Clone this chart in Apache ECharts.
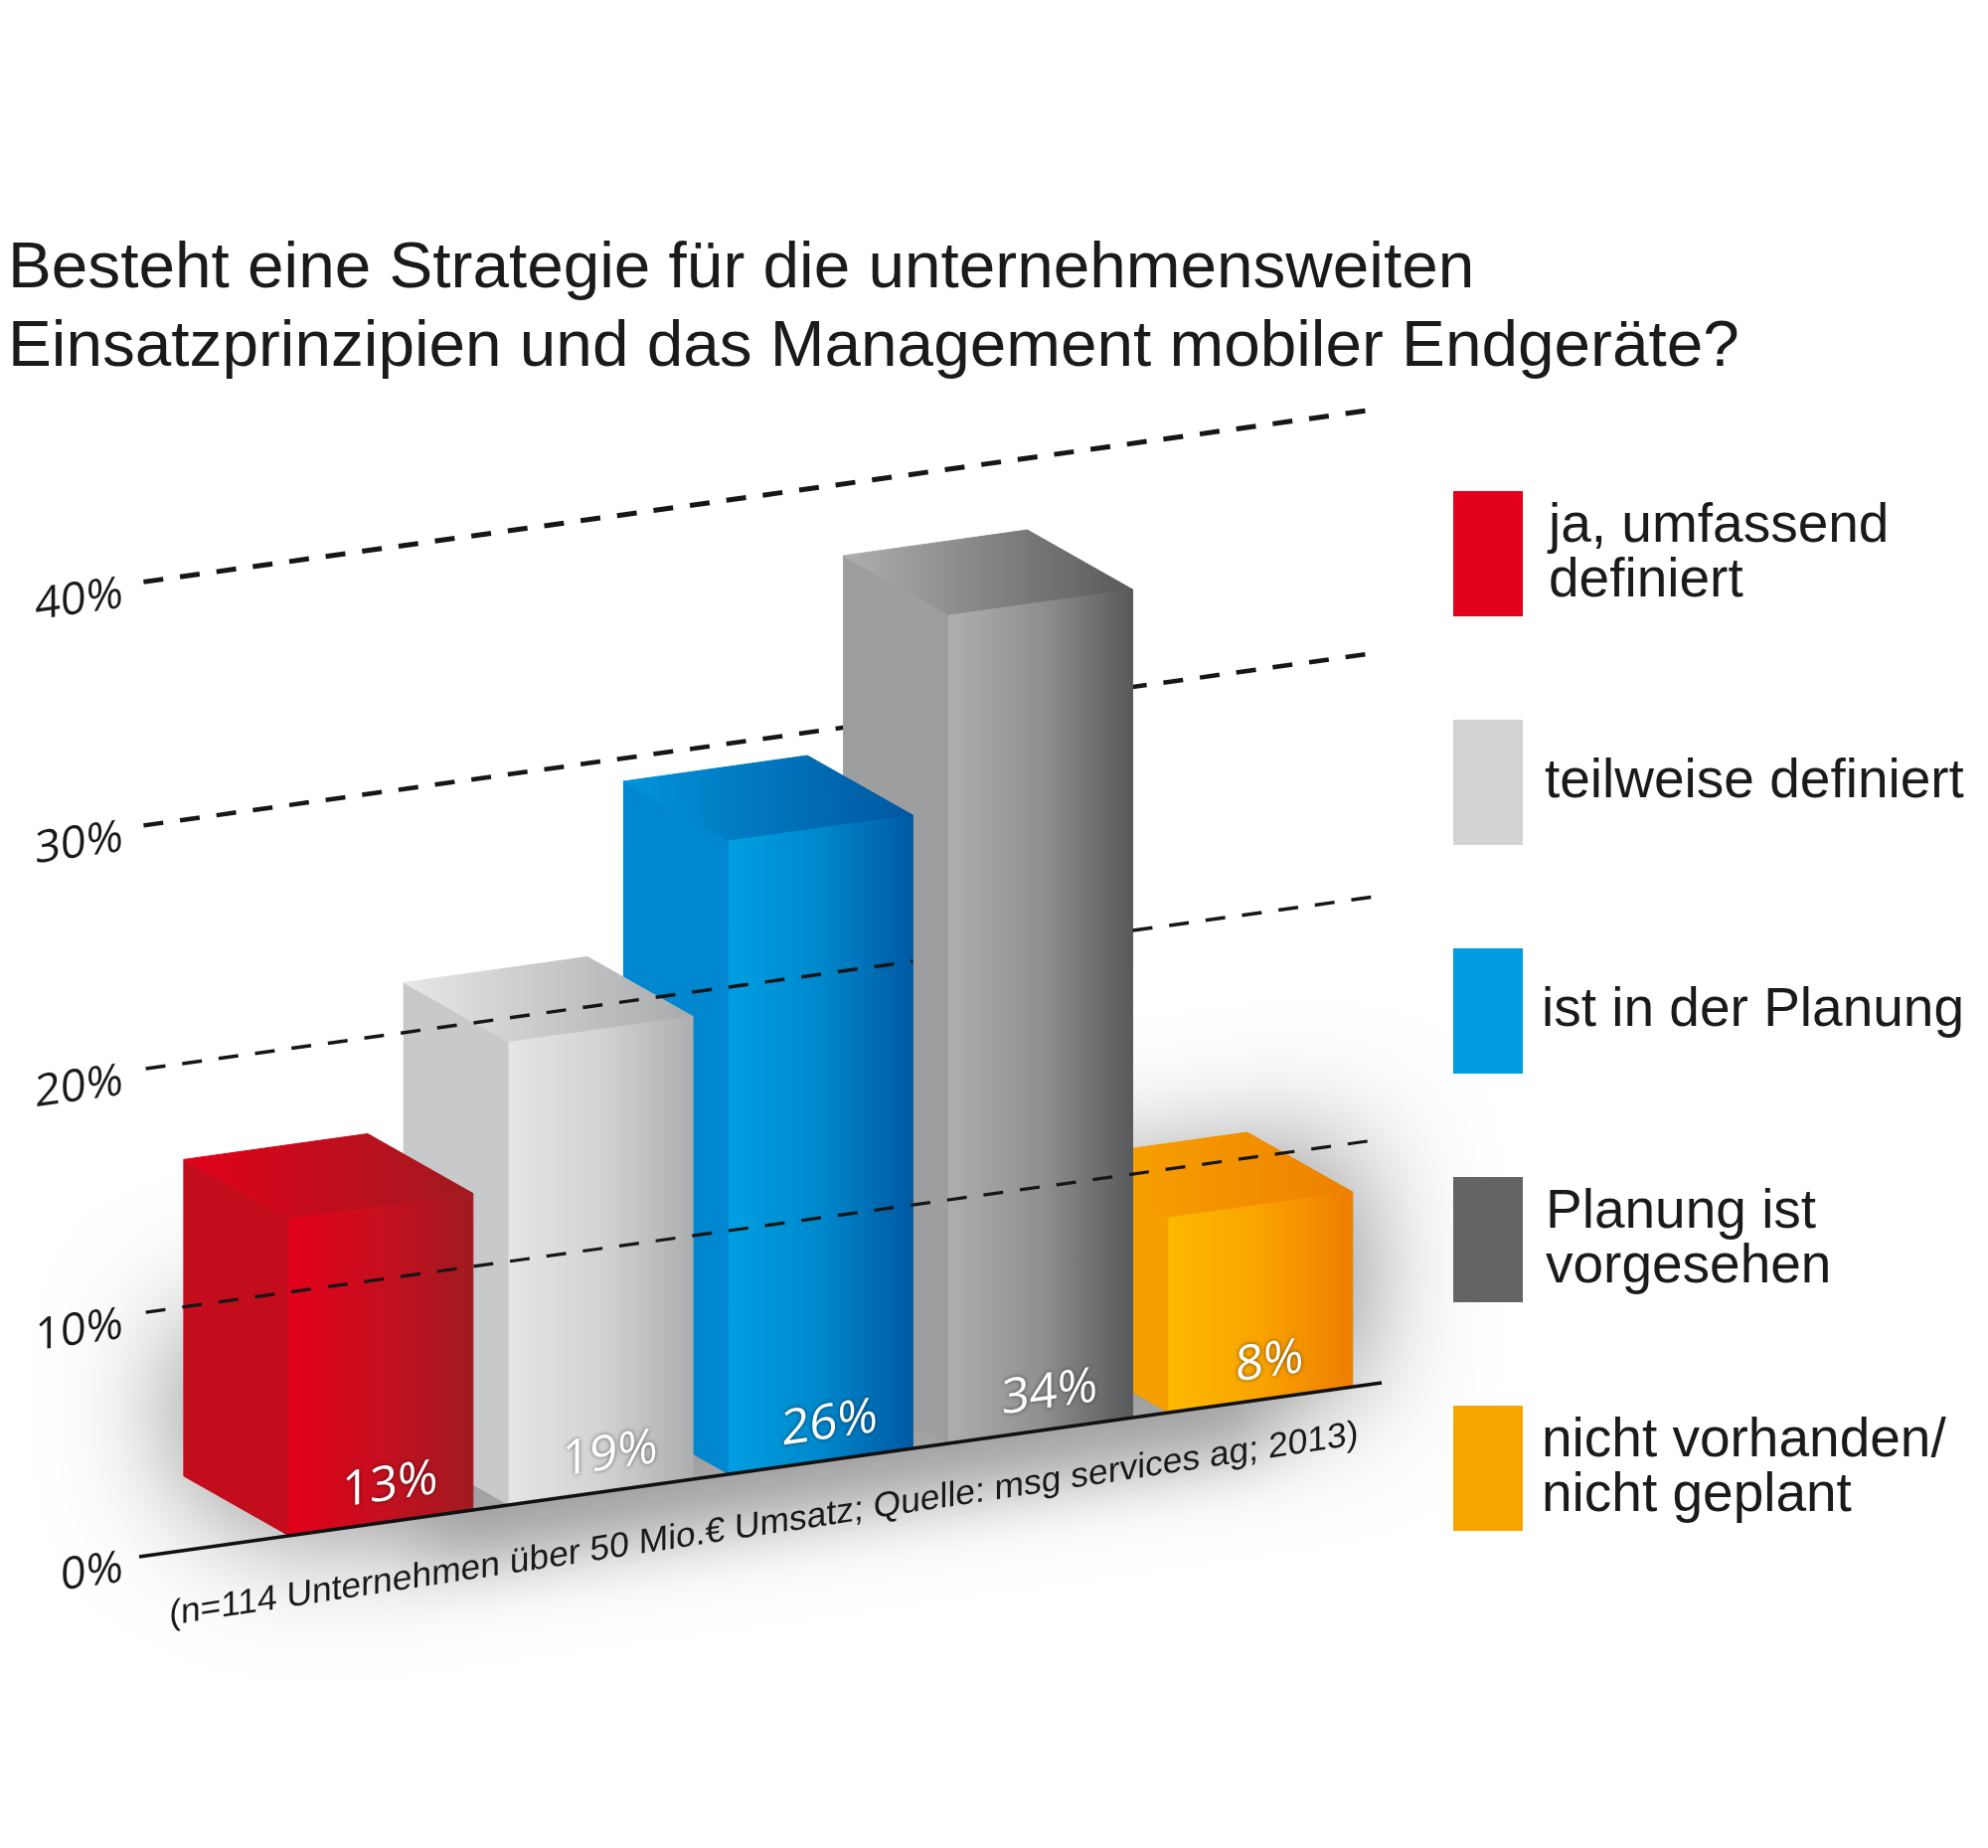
<!DOCTYPE html>
<html lang="de">
<head>
<meta charset="utf-8">
<title>Strategie mobile Endgeräte</title>
<style>html,body{margin:0;padding:0;background:#fff}#chart{width:2000px;height:1859px}</style>
<script src="https://cdn.jsdelivr.net/npm/echarts@6/dist/echarts.min.js"></script>
</head>
<body>
<div id="chart"></div>
<script>
// Survey answers, in percent
const categories = ['ja, umfassend\ndefiniert', 'teilweise definiert', 'ist in der Planung', 'Planung ist\nvorgesehen', 'nicht vorhanden/\nnicht geplant'];
const values = [13, 19, 26, 34, 8];
const tickValues = [0, 10, 20, 30, 40];
const gridValues = [40, 30, 20, 10];
const gridWidths = [5, 4.5, 3.5, 3.2];
const legendColors = ['#e2001a', '#d1d2d4', '#009ee0', '#636466', '#f7a600'];
const sideColors = ['#c30d1d', '#c8c9cb', '#0087cf', '#9d9ea0', '#f5a000'];
const frontColors = [['#e2001a', '#c60f1f', '#a01a20'], ['#e4e5e7', '#d2d3d5', '#adaeb0'], ['#009fe2', '#0088cc', '#0058a2'], ['#adaeb0', '#8f9092', '#58595b'], ['#fdb900', '#f9a300', '#ee7d00']];
const topColors = [['#e2001a', '#a01a20'], ['#e6e7e8', '#a9aaac'], ['#0094da', '#0056a0'], ['#aeafb1', '#58595b'], ['#f9a900', '#ee8000']];
const legendIndent = [21, 17, 14, 18, 14];
const footnote = '(n=114 Unternehmen über 50 Mio.€ Umsatz; Quelle: msg services ag; 2013)';
const title = 'Besteht eine Strategie für die unternehmensweiten\nEinsatzprinzipien und das Management mobiler Endgeräte?';

// Oblique projection: the floor rises to the right, bars recede up and to the left
const SLOPE = 0.14;
const DEPTH = [-106, -60];
const BAR = 0.836;
const X_MIN = -1.1, X_MAX = 4.55;
const GRID = { left: 140, top: 586, width: 1250, height: 980 };
const SKEW = Math.atan(SLOPE);
const FONT = 'Liberation Sans';
const TICK_FONT = 'Open Sans';
const INK = '#1a1a1a';

function project(api, x, v) {
  const p = api.coord([x, v]);
  return [p[0], p[1] - SLOPE * (p[0] - GRID.left)];
}
const back = p => [p[0] + DEPTH[0], p[1] + DEPTH[1]];
const grad = stops => new echarts.graphic.LinearGradient(0, 0, 1, 0,
  stops.map((c, i) => ({ offset: i / (stops.length - 1), color: c })));
// The hairline stroke closes the antialiasing seam between adjoining faces
const poly = (points, fill) => ({ type: 'polygon', shape: { points }, style: { fill, stroke: fill, lineWidth: 1 } });

function renderBar(i) {
  return function (params, api) {
    const x = api.value(0), v = api.value(1);
    const fl0 = project(api, x - BAR / 2, 0), fr0 = project(api, x + BAR / 2, 0);
    const fl1 = project(api, x - BAR / 2, v), fr1 = project(api, x + BAR / 2, v);
    const mid = project(api, x + 0.04, 0);
    return {
      type: 'group',
      children: [
        poly([fl0, fl1, back(fl1), back(fl0)], sideColors[i]),
        poly([fl1, fr1, back(fr1), back(fl1)], grad(topColors[i])),
        poly([fl0, fr0, fr1, fl1], grad(frontColors[i])),
        {
          type: 'text', x: mid[0], y: mid[1] - 36, skewY: SKEW,
          style: {
            text: v + '%', fill: '#fff', font: '400 49px "' + TICK_FONT + '"',
            align: 'center', verticalAlign: 'middle',
            textShadowColor: 'rgba(0,0,0,0.55)', textShadowBlur: 4
          }
        }
      ]
    };
  };
}

// Soft shadow: the shape is drawn off-canvas so only its blurred shadow lands on the page
function renderShadow(params, api) {
  const OFF = 4000;
  const soft = (points, blur, color) => ({
    type: 'polygon', x: -OFF, shape: { points },
    style: { fill: '#000', shadowBlur: blur, shadowColor: color, shadowOffsetX: OFF }
  });
  const xa = 0 - BAR / 2, xb = values.length - 1 + BAR / 2;
  const la = back(project(api, xa, 0)), lb = back(project(api, xa, 6));
  const ra = project(api, xb, 0), rb = project(api, xb, 10);
  const fa = project(api, xa, 0);
  return {
    type: 'group',
    children: [
      soft([la, lb, rb, ra, fa], 130, 'rgba(0,0,0,0.5)'),
      soft([project(api, xa + 0.6, 0), project(api, xb - 0.4, 0), project(api, xb - 0.4, -1.5), project(api, xa + 0.6, -1.5)], 70, 'rgba(0,0,0,0.38)')
    ]
  };
}

function gridLine(api, v, lw, from, to) {
  const a = project(api, from, v), b = project(api, to, v);
  return {
    type: 'line', shape: { x1: a[0], y1: a[1], x2: b[0], y2: b[1] },
    style: { stroke: '#161616', lineWidth: lw, lineDash: [20, 17] }
  };
}

const chart = echarts.init(document.getElementById('chart'), null, { renderer: 'canvas' });

const barSeries = categories.map((name, i) => ({
  name, type: 'custom', coordinateSystem: 'cartesian2d',
  z: 10 + (categories.length - i), silent: true,
  itemStyle: { color: legendColors[i] },
  encode: { x: 0, y: 1 },
  data: [[i, values[i]]],
  renderItem: renderBar(i)
}));

chart.setOption({
  animation: false,
  backgroundColor: '#fff',
  title: {
    text: title, left: 3, top: 226,
    textStyle: { fontFamily: FONT, fontWeight: 'normal', fontSize: 65.7, lineHeight: 79.5, color: INK }
  },
  legend: {
    orient: 'vertical', left: 1457, top: 489, itemWidth: 70, itemHeight: 126, itemGap: 104,
    selectedMode: false, icon: 'rect',
    data: categories.map((name, i) => ({
      name, itemStyle: { color: legendColors[i] },
      textStyle: { padding: [0, 0, 0, legendIndent[i]] }
    })),
    textStyle: { fontFamily: FONT, fontSize: 55, lineHeight: 55, color: INK }
  },
  grid: GRID,
  xAxis: { type: 'value', min: X_MIN, max: X_MAX, show: false },
  yAxis: {
    type: 'value', min: 0, max: 40, interval: 10,
    axisLine: { show: false }, axisTick: { show: false }, splitLine: { show: false },
    axisLabel: { show: false }
  },
  series: [
    {
      // Floor shadow beneath every bar
      type: 'custom', coordinateSystem: 'cartesian2d', z: 1, silent: true,
      data: [[0, 0]], encode: { x: 0, y: 1 }, renderItem: renderShadow
    },
    {
      // Percent scale, sheared along with the floor
      type: 'custom', coordinateSystem: 'cartesian2d', z: 3, silent: true,
      data: tickValues.map(v => [X_MIN, v]), encode: { x: 0, y: 1 },
      renderItem: (p, api) => {
        const c = project(api, api.value(0), api.value(1));
        return {
          type: 'text', x: c[0] - 16, y: c[1] + 12, skewY: SKEW,
          style: {
            text: api.value(1) + '%', fill: INK, font: '400 45px "' + TICK_FONT + '"',
            align: 'right', verticalAlign: 'middle'
          }
        };
      }
    },
    {
      // Upper guides pass behind the bars
      type: 'custom', coordinateSystem: 'cartesian2d', z: 2, silent: true,
      data: [[0, 0]], encode: { x: 0, y: 1 },
      renderItem: (p, api) => ({
        type: 'group',
        children: [0, 1].map(k => gridLine(api, gridValues[k], gridWidths[k], X_MIN + 0.02, X_MAX))
      })
    },
    ...barSeries,
    {
      // 20 % guide runs over the front bars and behind the tallest one; 10 % runs over all of them
      type: 'custom', coordinateSystem: 'cartesian2d', z: 20, silent: true,
      data: [[0, 0]], encode: { x: 0, y: 1 },
      renderItem: (p, api) => ({
        type: 'group',
        children: [
          gridLine(api, gridValues[2], gridWidths[2], X_MIN + 0.03, 2 + BAR / 2),
          gridLine(api, gridValues[2], gridWidths[2], 3 + BAR / 2, X_MAX - 0.02),
          gridLine(api, gridValues[3], gridWidths[3], X_MIN + 0.03, X_MAX - 0.02),
          Object.assign(gridLine(api, 0, 4, X_MIN, X_MAX), { style: { stroke: '#111', lineWidth: 3.5 } })
        ]
      })
    },
    {
      // Source note set along the floor edge
      type: 'custom', coordinateSystem: 'cartesian2d', z: 21, silent: true,
      data: [[0, 0]], encode: { x: 0, y: 1 },
      renderItem: (p, api) => {
        const c = project(api, 1.74, 0);
        return {
          type: 'text', x: c[0], y: c[1] + 56, skewY: Math.atan(0.152),
          style: {
            text: footnote, fill: INK, font: '35.4px "' + FONT + '"',
            align: 'center', verticalAlign: 'middle'
          }
        };
      }
    }
  ]
});
</script>
</body>
</html>
